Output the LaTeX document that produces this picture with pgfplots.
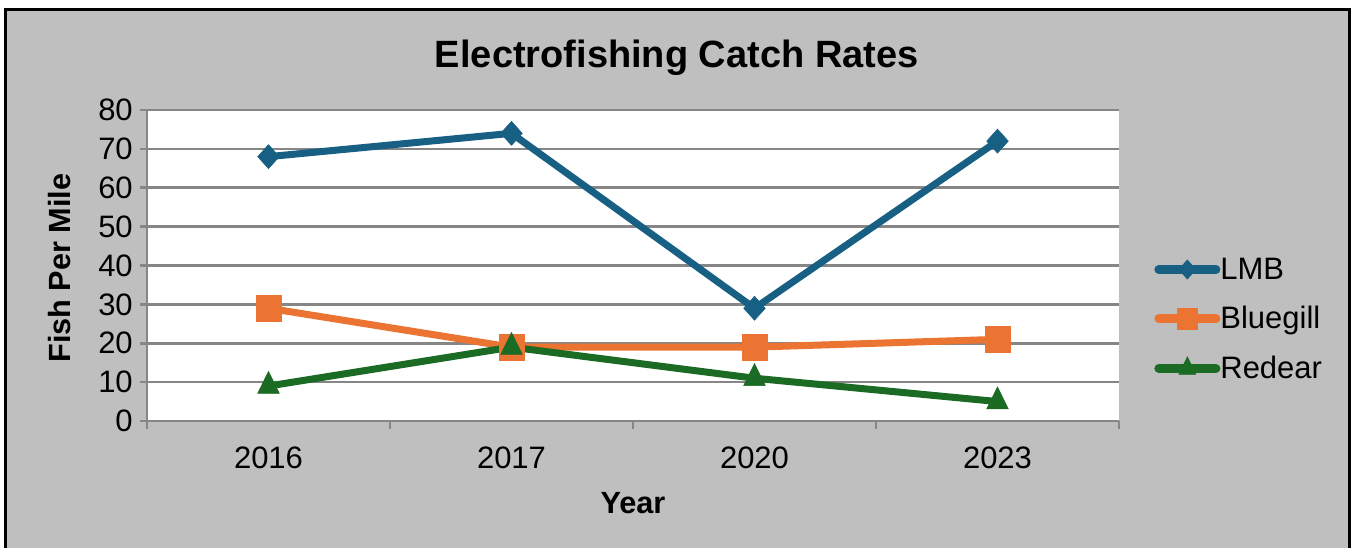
\documentclass[border=0pt]{standalone}
\usepackage{pgfplots}
\pgfplotsset{compat=1.18}
\usepackage{fontspec}
\setmainfont{Liberation Sans}
\definecolor{bggray}{RGB}{191,191,191}
\definecolor{gridgray}{RGB}{134,134,134}
\definecolor{lmbblue}{RGB}{23,96,132}
\definecolor{bgorange}{RGB}{236,116,50}
\definecolor{rdgreen}{RGB}{27,107,37}
\newcommand{\tickfont}{\fontsize{23.25}{28}\selectfont}
\begin{document}
\begin{tikzpicture}
\useasboundingbox (0,0) rectangle (1017.75pt,410.25pt);
\fill[white] (0,0) rectangle (1017.75pt,410.25pt);
\draw[fill=bggray, line width=2.25pt] (3.75pt,-10pt) rectangle (1011.75pt,402.75pt);
\begin{axis}[
  at={(110.25pt,94.5pt)}, anchor=south west,
  scale only axis,
  width=729pt, height=233.25pt,
  axis background/.style={fill=white},
  xmin=-0.5, xmax=3.5,
  ymin=0, ymax=80,
  xtick={0,1,2,3},
  xticklabels={2016,2017,2020,2023},
  minor xtick={-0.5,0.5,1.5,2.5,3.5},
  ytick={0,10,...,80},
  axis lines=left,
  axis line style={-, draw=gridgray, line width=1.9pt},
  tick align=outside,
  major tick length=5.25pt,
  minor tick length=6pt,
  tick style={draw=gridgray, line width=1.9pt},
  major x tick style={draw=none},
  ymajorgrids,
  grid style={draw=gridgray, line width=1.9pt},
  /pgf/number format/assume math mode=true,
  ticklabel style={font=\tickfont, inner sep=0pt},
  yticklabel style={xshift=-5.25pt},
  xticklabel style={yshift=-14pt},
  title={Electrofishing Catch Rates},
  title style={at={(axis description cs:0.545,1.142)}, anchor=center,
    font=\bfseries\fontsize{28.5}{34}\selectfont},
  xlabel={Year},
  xlabel style={at={(axis description cs:0.5,-0.264)}, anchor=center,
    font=\bfseries\fontsize{23}{28}\selectfont},
  ylabel={Fish Per Mile},
  ylabel style={at={(axis description cs:-0.0895,0.492)}, anchor=center,
    font=\bfseries\fontsize{23}{28}\selectfont},
  legend style={at={(axis description cs:1.032,0.327)}, anchor=west,
    draw=none, fill=none, font=\tickfont, row sep=19pt, column sep=0pt,
    nodes={inner sep=0pt}},
  legend cell align=left,
  legend image code/.code={\draw[#1, line width=6.5pt, line cap=round,
    mark repeat=2, mark phase=2, every mark/.append style={scale=0.8}]
    plot coordinates {(0pt,0pt) (21.5pt,0pt) (43pt,0pt)};},
  every axis plot/.append style={line width=5.25pt},
]
\addplot[color=lmbblue, mark=diamond*, mark size=9pt,
  mark options={xscale=1.2, line width=0.4pt}]
  coordinates {(0,68) (1,74) (2,29) (3,72)};
\addplot[color=bgorange, mark=square*, mark size=9.5pt,
  mark options={line width=0.4pt}]
  coordinates {(0,29) (1,19) (2,19) (3,21)};
\addplot[color=rdgreen, mark=triangle*, mark size=11pt,
  mark options={xscale=0.85, line width=0.4pt}]
  coordinates {(0,9) (1,19) (2,11) (3,5)};
\legend{LMB,Bluegill,Redear}
\end{axis}
\end{tikzpicture}
\end{document}
